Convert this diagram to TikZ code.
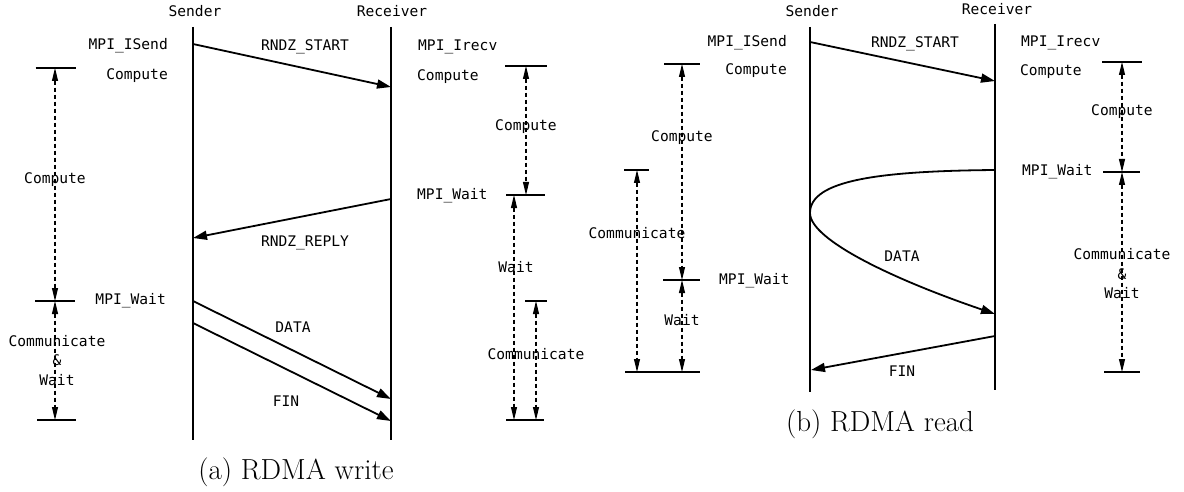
\documentclass[tikz,border=0pt]{standalone}
\usepackage{fontspec}
\newfontfamily\monofont{DejaVu Sans Mono}
\usetikzlibrary{arrows.meta}
\begin{document}
\begin{tikzpicture}[x=1pt, y=-1pt,
                    lbl/.style={font=\monofont\fontsize{14.6}{19.5}\selectfont, inner sep=0pt, align=center},
                    subcap/.style={font=\fontsize{29}{34}\selectfont, inner sep=0pt},
                    lifeline/.style={draw, line width=2pt},
                    msg/.style={draw, line width=1.8pt, -{Triangle[length=14pt, width=9pt]}},
                    span/.style={draw, line width=1.1pt, dash pattern=on 4pt off 3pt,
                                 {Triangle[length=13pt, width=6pt]}-{Triangle[length=13pt, width=6pt]}},
                    tickline/.style={draw, line width=2pt},]
  \useasboundingbox (0,0) rectangle (1184,492);

  % (a) RDMA write
  \coordinate (sa-top) at (193,27);  \coordinate (sa-bot) at (193,440);
  \coordinate (ra-top) at (391,27);  \coordinate (ra-bot) at (391,440);
  \draw[lifeline] (sa-top) -- (sa-bot);
  \draw[lifeline] (ra-top) -- (ra-bot);
  \node(sa-name)[lbl] at (195,11) {Sender};
  \node(ra-name)[lbl] at (392,11) {Receiver};

  \coordinate (sa-start) at (193,44);  \coordinate (ra-start) at (391,87);
  \coordinate (ra-reply) at (391,199); \coordinate (sa-reply) at (193,238);
  \coordinate (sa-data) at (193,301);  \coordinate (ra-data) at (391,399);
  \coordinate (sa-fin) at (193,323);   \coordinate (ra-fin) at (391,421);
  \draw[msg] (sa-start) -- (ra-start);
  \draw[msg] (ra-reply) -- (sa-reply);
  \draw[msg] (sa-data) -- (ra-data);
  \draw[msg] (sa-fin) -- (ra-fin);
  \node(a-start)[lbl] at (305,47) {RNDZ\_START};
  \node(a-reply)[lbl] at (305,243) {RNDZ\_REPLY};
  \node(a-data)[lbl] at (293,327) {DATA};
  \node(a-fin)[lbl] at (286,401) {FIN};

  \node(sa-isend)[lbl, anchor=mid east] at (168,47) {MPI\_ISend};
  \node(sa-comp)[lbl, anchor=mid east] at (168,77) {Compute};
  \node(sa-wait)[lbl, anchor=mid east] at (166,302) {MPI\_Wait};
  \node(ra-irecv)[lbl, anchor=mid west] at (418,48) {MPI\_Irecv};
  \node(ra-comp)[lbl, anchor=mid west] at (417,78) {Compute};
  \node(ra-wait)[lbl, anchor=mid west] at (417,197) {MPI\_Wait};

  % sender phases
  \coordinate (al-t1) at (55,68); \coordinate (al-t2) at (55,301); \coordinate (al-t3) at (56,420);
  \draw[tickline] (al-t1) ++(-19.5,0) -- ++(40,0);
  \draw[tickline] (al-t2) ++(-20,0) -- ++(40,0);
  \draw[tickline] (al-t3) ++(-19,0) -- ++(39,0);
  \draw[span] (al-t1) -- (al-t1 |- al-t2) node(al-c)[lbl, pos=0.48]{Compute};
  \draw[span] (al-t2) -- (al-t2 |- al-t3) node(al-cw)[lbl, pos=0.5, xshift=2pt]{Communicate\\\&\\Wait};

  % receiver phases
  \coordinate (ar-t1) at (526,66); \coordinate (ar-t2) at (525.5,195);
  \coordinate (ar-t3) at (536,301); \coordinate (ar-t4) at (525,420);
  \coordinate (ar-wx) at (514,0);
  \draw[tickline] (ar-t1) ++(-21,0) -- ++(42,0);
  \draw[tickline] (ar-t2) ++(-19.5,0) -- ++(39,0);
  \draw[tickline] (ar-t3) ++(-11,0) -- ++(22,0);
  \draw[tickline] (ar-t4) ++(-19,0) -- ++(38,0);
  \draw[span] (ar-t1) -- (ar-t1 |- ar-t2) node(ar-c)[lbl, pos=0.47]{Compute};
  \draw[span] (ar-wx |- ar-t2) -- (ar-wx |- ar-t4) node(ar-w)[lbl, pos=0.32, xshift=2pt]{Wait};
  \draw[span] (ar-t3) -- (ar-t3 |- ar-t4) node(ar-cm)[lbl, pos=0.445]{Communicate};

  \node(cap-a)[subcap] at (296,472) {(a) RDMA write};

  % (b) RDMA read
  \coordinate (sb-top) at (810,27);  \coordinate (sb-bot) at (810,392);
  \coordinate (rb-top) at (995,24);  \coordinate (rb-bot) at (995,390);
  \draw[lifeline] (sb-top) -- (sb-bot);
  \draw[lifeline] (rb-top) -- (rb-bot);
  \node(sb-name)[lbl] at (812,11) {Sender};
  \node(rb-name)[lbl] at (997,9) {Receiver};

  \coordinate (sb-start) at (810,42);  \coordinate (rb-start) at (995,81);
  \coordinate (rb-dout) at (995,170);  \coordinate (sb-turn) at (810,213);
  \coordinate (rb-din) at (995,314);
  \coordinate (rb-fin) at (995,336);   \coordinate (sb-fin) at (811,370);
  \draw[msg] (sb-start) -- (rb-start);
  \draw[msg] (rb-dout) .. controls (880,171) and (810,180) .. (sb-turn)
                       .. controls (810,240) and (895,280) .. (rb-din);
  \draw[msg] (rb-fin) -- (sb-fin);
  \node(b-start)[lbl] at (915,44) {RNDZ\_START};
  \node(b-data)[lbl] at (902,256) {DATA};
  \node(b-fin)[lbl] at (902,371) {FIN};

  \node(sb-isend)[lbl, anchor=mid east] at (787,44) {MPI\_ISend};
  \node(sb-comp)[lbl, anchor=mid east] at (787,72) {Compute};
  \node(sb-wait)[lbl, anchor=mid west] at (719,282) {MPI\_Wait};
  \node(rb-irecv)[lbl, anchor=mid west] at (1021,44) {MPI\_Irecv};
  \node(rb-comp)[lbl, anchor=mid west] at (1020,73) {Compute};
  \node(rb-wait)[lbl, anchor=mid west] at (1022,173) {MPI\_Wait};

  % sender phases
  \coordinate (bl-t1) at (682,64); \coordinate (bl-t2) at (637,170);
  \coordinate (bl-t3) at (682,280); \coordinate (bl-t4) at (662.5,372);
  \draw[tickline] (bl-t1) ++(-18,0) -- ++(36,0);
  \draw[tickline] (bl-t2) ++(-13,0) -- ++(25,0);
  \draw[tickline] (bl-t3) ++(-19,0) -- ++(37,0);
  \draw[tickline] (bl-t4) ++(-37.5,0) -- ++(75,0);
  \draw[span] (bl-t1) -- (bl-t3) node(bl-c)[lbl, pos=0.34]{Compute};
  \draw[span] (bl-t3) -- (bl-t3 |- bl-t4) node(bl-w)[lbl, pos=0.43]{Wait};
  \draw[span] (bl-t2) -- (bl-t2 |- bl-t4) node(bl-cm)[lbl, pos=0.31]{Communicate};

  % receiver phases
  \coordinate (br-t1) at (1122,62); \coordinate (br-t2) at (1122,172); \coordinate (br-t3) at (1122,372);
  \draw[tickline] (br-t1) ++(-20,0) -- ++(40,0);
  \draw[tickline] (br-t2) ++(-19,0) -- ++(37,0);
  \draw[tickline] (br-t3) ++(-18,0) -- ++(36,0);
  \draw[span] (br-t1) -- (br-t2) node(br-c)[lbl, pos=0.45]{Compute};
  \draw[span] (br-t2) -- (br-t3) node(br-cw)[lbl, pos=0.51]{Communicate\\\&\\Wait};

  \node(cap-b)[subcap] at (880,424) {(b) RDMA read};
\end{tikzpicture}
\end{document}
